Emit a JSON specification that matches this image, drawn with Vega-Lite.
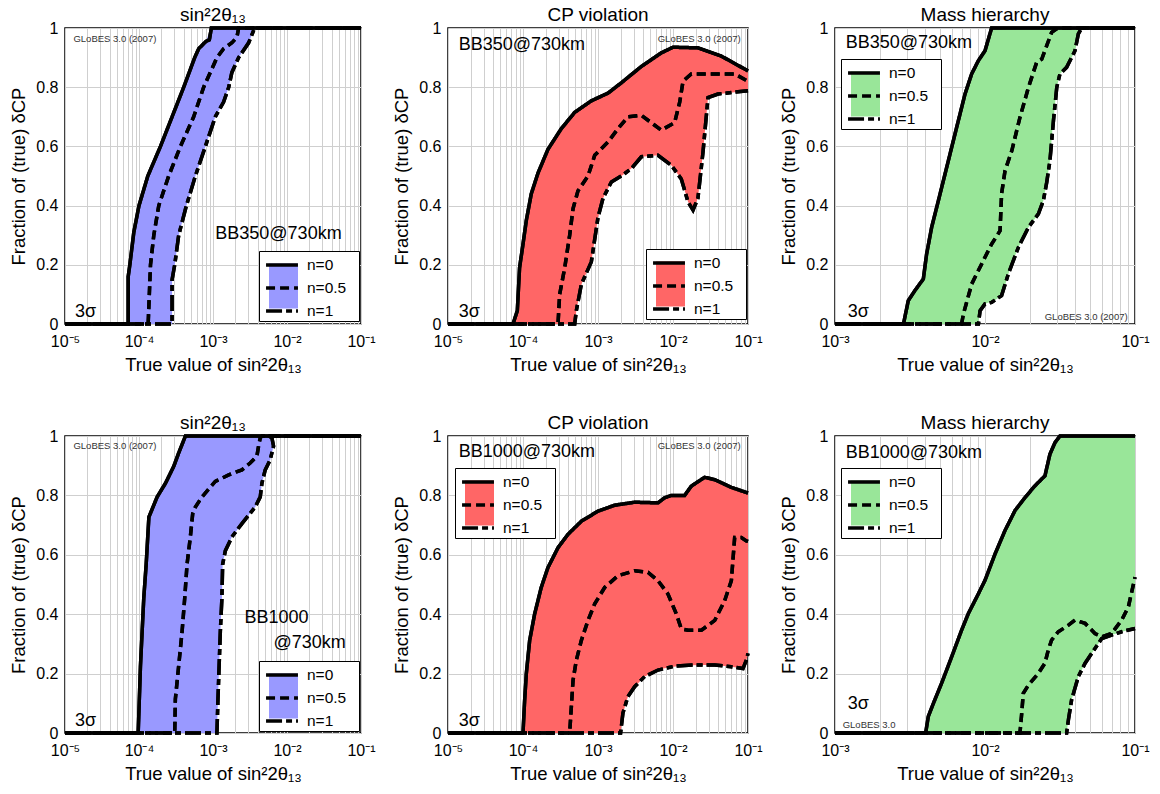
{
"$schema": "https://vega.github.io/schema/vega-lite/v6.json",
"background": "white",
"padding": {"left": 9, "top": 5, "right": 5, "bottom": 5},
"columns": 3,
"bounds": "flush",
"align": "each",
"spacing": {"row": 112, "column": 87},
"resolve": {
  "scale": {"x": "independent", "y": "independent", "strokeDash": "independent", "fill": "independent"},
  "axis": {"x": "independent", "y": "independent"},
  "legend": {"strokeDash": "independent", "fill": "independent"}
},
"datasets": {
 "grad": [{"v":0},{"v":1}],
 "f1": [{"y":0,"x":7.14e-5,"x2":2.8e-4},{"y":0.16,"x":7.14e-5,"x2":2.8e-4},{"y":0.2,"x":7.52e-5,"x2":3.04e-4},{"y":0.3,"x":8.4e-5,"x2":3.44e-4},{"y":0.4,"x":1.0e-4,"x2":4.37e-4},{"y":0.5,"x":1.315e-4,"x2":5.78e-4},{"y":0.6,"x":1.95e-4,"x2":7.89e-4},{"y":0.7,"x":2.8e-4,"x2":1.074e-3},{"y":0.75,"x":3.35e-4,"x2":1.39e-3},{"y":0.8,"x":4.02e-4,"x2":1.63e-3},{"y":0.85,"x":4.8e-4,"x2":1.8e-3},{"y":0.9,"x":5.66e-4,"x2":2.22e-3},{"y":0.95,"x":7.8e-4,"x2":3.03e-3},{"y":1,"x":9.5e-4,"x2":3.65e-3}],
 "l1": [
    {"n":"n=0","i":0,"x":1e-5,"y":0},{"n":"n=0","i":1,"x":7.14e-5,"y":0},{"n":"n=0","i":2,"x":7.14e-5,"y":0.16},{"n":"n=0","i":3,"x":7.52e-5,"y":0.2},{"n":"n=0","i":4,"x":8.51e-5,"y":0.31},{"n":"n=0","i":5,"x":1.0e-4,"y":0.4},{"n":"n=0","i":6,"x":1.315e-4,"y":0.5},{"n":"n=0","i":7,"x":1.95e-4,"y":0.6},{"n":"n=0","i":8,"x":2.8e-4,"y":0.7},{"n":"n=0","i":9,"x":4.02e-4,"y":0.8},{"n":"n=0","i":10,"x":5.66e-4,"y":0.9},{"n":"n=0","i":11,"x":6.41e-4,"y":0.93},{"n":"n=0","i":12,"x":8.05e-4,"y":0.955},{"n":"n=0","i":13,"x":8.93e-4,"y":0.96},{"n":"n=0","i":14,"x":9.5e-4,"y":1},{"n":"n=0","i":15,"x":0.1,"y":1},
    {"n":"n=0.5","i":0,"x":1e-5,"y":0},{"n":"n=0.5","i":1,"x":1.33e-4,"y":0},{"n":"n=0.5","i":2,"x":1.43e-4,"y":0.2},{"n":"n=0.5","i":3,"x":1.585e-4,"y":0.3},{"n":"n=0.5","i":4,"x":1.85e-4,"y":0.4},{"n":"n=0.5","i":5,"x":2.52e-4,"y":0.5},{"n":"n=0.5","i":6,"x":3.63e-4,"y":0.6},{"n":"n=0.5","i":7,"x":5.48e-4,"y":0.7},{"n":"n=0.5","i":8,"x":7.48e-4,"y":0.8},{"n":"n=0.5","i":9,"x":9.2e-4,"y":0.85},{"n":"n=0.5","i":10,"x":1.13e-3,"y":0.9},{"n":"n=0.5","i":11,"x":1.39e-3,"y":0.93},{"n":"n=0.5","i":12,"x":1.8e-3,"y":0.95},{"n":"n=0.5","i":13,"x":2.11e-3,"y":0.97},{"n":"n=0.5","i":14,"x":2.22e-3,"y":1},{"n":"n=0.5","i":15,"x":0.1,"y":1},
    {"n":"n=1","i":0,"x":1e-5,"y":0},{"n":"n=1","i":1,"x":2.8e-4,"y":0},{"n":"n=1","i":2,"x":2.8e-4,"y":0.15},{"n":"n=1","i":3,"x":3.04e-4,"y":0.2},{"n":"n=1","i":4,"x":3.44e-4,"y":0.3},{"n":"n=1","i":5,"x":4.37e-4,"y":0.4},{"n":"n=1","i":6,"x":5.78e-4,"y":0.5},{"n":"n=1","i":7,"x":7.89e-4,"y":0.6},{"n":"n=1","i":8,"x":1.074e-3,"y":0.7},{"n":"n=1","i":9,"x":1.39e-3,"y":0.75},{"n":"n=1","i":10,"x":1.63e-3,"y":0.8},{"n":"n=1","i":11,"x":1.8e-3,"y":0.85},{"n":"n=1","i":12,"x":2.22e-3,"y":0.9},{"n":"n=1","i":13,"x":3.03e-3,"y":0.95},{"n":"n=1","i":14,"x":3.65e-3,"y":1},{"n":"n=1","i":15,"x":0.1,"y":1}],
 "f2": [{"x":7.36e-5,"y":0,"y2":0},{"x":8.4e-5,"y":0,"y2":0.045},{"x":9e-5,"y":0,"y2":0.19},{"x":1e-4,"y":0,"y2":0.27},{"x":1.107e-4,"y":0,"y2":0.35},{"x":1.29e-4,"y":0,"y2":0.44},{"x":1.585e-4,"y":0,"y2":0.51},{"x":2.15e-4,"y":0,"y2":0.59},{"x":3.24e-4,"y":0,"y2":0.66},{"x":4.89e-4,"y":0,"y2":0.715},{"x":5.14e-4,"y":0.045,"y2":0.72},{"x":6e-4,"y":0.134,"y2":0.73},{"x":8.15e-4,"y":0.21,"y2":0.754},{"x":1e-3,"y":0.36,"y2":0.765},{"x":1.167e-3,"y":0.425,"y2":0.772},{"x":1.51e-3,"y":0.48,"y2":0.785},{"x":2.05e-3,"y":0.5,"y2":0.815},{"x":2.78e-3,"y":0.525,"y2":0.842},{"x":3.78e-3,"y":0.565,"y2":0.87},{"x":6.31e-3,"y":0.57,"y2":0.908},{"x":9.5e-3,"y":0.536,"y2":0.932},{"x":1.29e-2,"y":0.49,"y2":0.935},{"x":1.585e-2,"y":0.413,"y2":0.935},{"x":1.85e-2,"y":0.385,"y2":0.934},{"x":2.15e-2,"y":0.425,"y2":0.933},{"x":2.51e-2,"y":0.58,"y2":0.927},{"x":2.93e-2,"y":0.765,"y2":0.921},{"x":3.98e-2,"y":0.777,"y2":0.909},{"x":4.41e-2,"y":0.778,"y2":0.905},{"x":0.1,"y":0.788,"y2":0.855}],
 "l2": [
    {"n":"n=0","i":0,"x":1e-5,"y":0},{"n":"n=0","i":1,"x":7.36e-5,"y":0},{"n":"n=0","i":2,"x":8.4e-5,"y":0.045},{"n":"n=0","i":3,"x":9.0e-5,"y":0.19},{"n":"n=0","i":4,"x":1e-4,"y":0.27},{"n":"n=0","i":5,"x":1.107e-4,"y":0.35},{"n":"n=0","i":6,"x":1.29e-4,"y":0.44},{"n":"n=0","i":7,"x":1.585e-4,"y":0.51},{"n":"n=0","i":8,"x":2.15e-4,"y":0.59},{"n":"n=0","i":9,"x":3.24e-4,"y":0.66},{"n":"n=0","i":10,"x":4.89e-4,"y":0.715},{"n":"n=0","i":11,"x":8.15e-4,"y":0.754},{"n":"n=0","i":12,"x":1.36e-3,"y":0.78},{"n":"n=0","i":13,"x":2.05e-3,"y":0.815},{"n":"n=0","i":14,"x":3.78e-3,"y":0.87},{"n":"n=0","i":15,"x":6.98e-3,"y":0.916},{"n":"n=0","i":16,"x":1e-2,"y":0.935},{"n":"n=0","i":17,"x":2.15e-2,"y":0.933},{"n":"n=0","i":18,"x":4.41e-2,"y":0.905},{"n":"n=0","i":19,"x":0.1,"y":0.855},
    {"n":"n=0.5","i":0,"x":1e-5,"y":0},{"n":"n=0.5","i":1,"x":2.93e-4,"y":0},{"n":"n=0.5","i":2,"x":3.08e-4,"y":0.1},{"n":"n=0.5","i":3,"x":3.6e-4,"y":0.19},{"n":"n=0.5","i":4,"x":4.19e-4,"y":0.3},{"n":"n=0.5","i":5,"x":4.65e-4,"y":0.39},{"n":"n=0.5","i":6,"x":5.41e-4,"y":0.45},{"n":"n=0.5","i":7,"x":7.36e-4,"y":0.5},{"n":"n=0.5","i":8,"x":9.04e-4,"y":0.57},{"n":"n=0.5","i":9,"x":1.36e-3,"y":0.615},{"n":"n=0.5","i":10,"x":1.85e-3,"y":0.66},{"n":"n=0.5","i":11,"x":2.51e-3,"y":0.7},{"n":"n=0.5","i":12,"x":3.78e-3,"y":0.705},{"n":"n=0.5","i":13,"x":5.14e-3,"y":0.68},{"n":"n=0.5","i":14,"x":6.98e-3,"y":0.655},{"n":"n=0.5","i":15,"x":1.05e-2,"y":0.68},{"n":"n=0.5","i":16,"x":1.23e-2,"y":0.75},{"n":"n=0.5","i":17,"x":1.36e-2,"y":0.82},{"n":"n=0.5","i":18,"x":1.75e-2,"y":0.845},{"n":"n=0.5","i":19,"x":3.6e-2,"y":0.845},{"n":"n=0.5","i":20,"x":6.64e-2,"y":0.845},{"n":"n=0.5","i":21,"x":0.1,"y":0.82},
    {"n":"n=1","i":0,"x":1e-5,"y":0},{"n":"n=1","i":1,"x":4.89e-4,"y":0},{"n":"n=1","i":2,"x":5.14e-4,"y":0.045},{"n":"n=1","i":3,"x":6.0e-4,"y":0.134},{"n":"n=1","i":4,"x":8.15e-4,"y":0.21},{"n":"n=1","i":5,"x":1e-3,"y":0.36},{"n":"n=1","i":6,"x":1.167e-3,"y":0.425},{"n":"n=1","i":7,"x":1.51e-3,"y":0.48},{"n":"n=1","i":8,"x":2.05e-3,"y":0.5},{"n":"n=1","i":9,"x":2.78e-3,"y":0.525},{"n":"n=1","i":10,"x":3.78e-3,"y":0.565},{"n":"n=1","i":11,"x":6.31e-3,"y":0.57},{"n":"n=1","i":12,"x":9.5e-3,"y":0.536},{"n":"n=1","i":13,"x":1.29e-2,"y":0.49},{"n":"n=1","i":14,"x":1.585e-2,"y":0.413},{"n":"n=1","i":15,"x":1.85e-2,"y":0.385},{"n":"n=1","i":16,"x":2.15e-2,"y":0.425},{"n":"n=1","i":17,"x":2.51e-2,"y":0.58},{"n":"n=1","i":18,"x":2.93e-2,"y":0.765},{"n":"n=1","i":19,"x":3.98e-2,"y":0.777},{"n":"n=1","i":20,"x":0.1,"y":0.788}],
 "f3": [{"y":0,"x":2.86e-3,"x2":9.04e-3},{"y":0.045,"x":2.98e-3,"x2":9.27e-3},{"y":0.068,"x":3.05e-3,"x2":1e-2},{"y":0.079,"x":3.08e-3,"x2":1.16e-2},{"y":0.096,"x":3.25e-3,"x2":1.29e-2},{"y":0.113,"x":3.41e-3,"x2":1.33e-2},{"y":0.152,"x":3.88e-3,"x2":1.4e-2},{"y":0.169,"x":3.92e-3,"x2":1.43e-2},{"y":0.236,"x":4.08e-3,"x2":1.6e-2},{"y":0.259,"x":4.16e-3,"x2":1.67e-2},{"y":0.327,"x":4.41e-3,"x2":1.95e-2},{"y":0.372,"x":4.65e-3,"x2":2.27e-2},{"y":0.417,"x":4.89e-3,"x2":2.45e-2},{"y":0.479,"x":5.25e-3,"x2":2.58e-2},{"y":0.552,"x":5.7e-3,"x2":2.71e-2},{"y":0.664,"x":6.47e-3,"x2":2.82e-2},{"y":0.687,"x":6.62e-3,"x2":2.86e-2},{"y":0.777,"x":7.36e-3,"x2":2.97e-2},{"y":0.8,"x":7.6e-3,"x2":3.01e-2},{"y":0.845,"x":8.15e-3,"x2":3.16e-2},{"y":0.867,"x":8.6e-3,"x2":3.5e-2},{"y":0.89,"x":9.04e-3,"x2":3.7e-2},{"y":0.923,"x":1e-2,"x2":3.98e-2},{"y":0.98,"x":1.08e-2,"x2":4.19e-2},{"y":1,"x":1.107e-2,"x2":4.41e-2}],
 "l3": [
    {"n":"n=0","i":0,"x":1e-3,"y":0},{"n":"n=0","i":1,"x":2.86e-3,"y":0},{"n":"n=0","i":2,"x":3.08e-3,"y":0.079},{"n":"n=0","i":3,"x":3.41e-3,"y":0.113},{"n":"n=0","i":4,"x":3.88e-3,"y":0.152},{"n":"n=0","i":5,"x":4.08e-3,"y":0.236},{"n":"n=0","i":6,"x":4.41e-3,"y":0.327},{"n":"n=0","i":7,"x":4.89e-3,"y":0.417},{"n":"n=0","i":8,"x":5.7e-3,"y":0.552},{"n":"n=0","i":9,"x":6.47e-3,"y":0.664},{"n":"n=0","i":10,"x":7.36e-3,"y":0.777},{"n":"n=0","i":11,"x":8.15e-3,"y":0.845},{"n":"n=0","i":12,"x":9.04e-3,"y":0.89},{"n":"n=0","i":13,"x":1e-2,"y":0.923},{"n":"n=0","i":14,"x":1.107e-2,"y":1},{"n":"n=0","i":15,"x":0.1,"y":1},
    {"n":"n=0.5","i":0,"x":1e-3,"y":0},{"n":"n=0.5","i":1,"x":6.98e-3,"y":0},{"n":"n=0.5","i":2,"x":7.18e-3,"y":0.034},{"n":"n=0.5","i":3,"x":8.15e-3,"y":0.135},{"n":"n=0.5","i":4,"x":9.5e-3,"y":0.203},{"n":"n=0.5","i":5,"x":1.107e-2,"y":0.27},{"n":"n=0.5","i":6,"x":1.26e-2,"y":0.315},{"n":"n=0.5","i":7,"x":1.29e-2,"y":0.44},{"n":"n=0.5","i":8,"x":1.36e-2,"y":0.518},{"n":"n=0.5","i":9,"x":1.51e-2,"y":0.586},{"n":"n=0.5","i":10,"x":1.71e-2,"y":0.698},{"n":"n=0.5","i":11,"x":1.95e-2,"y":0.8},{"n":"n=0.5","i":12,"x":2.21e-2,"y":0.884},{"n":"n=0.5","i":13,"x":2.39e-2,"y":0.895},{"n":"n=0.5","i":14,"x":2.78e-2,"y":0.985},{"n":"n=0.5","i":15,"x":3.0e-2,"y":0.997},{"n":"n=0.5","i":16,"x":3.24e-2,"y":1},{"n":"n=0.5","i":17,"x":0.1,"y":1},
    {"n":"n=1","i":0,"x":1e-3,"y":0},{"n":"n=1","i":1,"x":9.04e-3,"y":0},{"n":"n=1","i":2,"x":9.27e-3,"y":0.045},{"n":"n=1","i":3,"x":1e-2,"y":0.068},{"n":"n=1","i":4,"x":1.107e-2,"y":0.073},{"n":"n=1","i":5,"x":1.29e-2,"y":0.096},{"n":"n=1","i":6,"x":1.43e-2,"y":0.169},{"n":"n=1","i":7,"x":1.67e-2,"y":0.259},{"n":"n=1","i":8,"x":1.95e-2,"y":0.327},{"n":"n=1","i":9,"x":2.27e-2,"y":0.372},{"n":"n=1","i":10,"x":2.45e-2,"y":0.417},{"n":"n=1","i":11,"x":2.58e-2,"y":0.479},{"n":"n=1","i":12,"x":2.71e-2,"y":0.552},{"n":"n=1","i":13,"x":2.86e-2,"y":0.687},{"n":"n=1","i":14,"x":3.01e-2,"y":0.8},{"n":"n=1","i":15,"x":3.16e-2,"y":0.845},{"n":"n=1","i":16,"x":3.5e-2,"y":0.867},{"n":"n=1","i":17,"x":3.98e-2,"y":0.923},{"n":"n=1","i":18,"x":4.19e-2,"y":0.98},{"n":"n=1","i":19,"x":4.41e-2,"y":1},{"n":"n=1","i":20,"x":0.1,"y":1}],
 "f4": [{"y":0,"x":9.75e-5,"x2":1.13e-3},{"y":0.114,"x":1.01e-4,"x2":1.167e-3},{"y":0.227,"x":1.047e-4,"x2":1.21e-3},{"y":0.341,"x":1.1e-4,"x2":1.256e-3},{"y":0.455,"x":1.16e-4,"x2":1.32e-3},{"y":0.568,"x":1.25e-4,"x2":1.35e-3},{"y":0.614,"x":1.29e-4,"x2":1.47e-3},{"y":0.66,"x":1.32e-4,"x2":1.8e-3},{"y":0.705,"x":1.35e-4,"x2":2.46e-3},{"y":0.727,"x":1.36e-4,"x2":2.9e-3},{"y":0.761,"x":1.55e-4,"x2":3.72e-3},{"y":0.795,"x":1.76e-4,"x2":4.35e-3},{"y":0.841,"x":2.28e-4,"x2":4.58e-3},{"y":0.886,"x":2.8e-4,"x2":5.08e-3},{"y":0.898,"x":2.95e-4,"x2":5.35e-3},{"y":0.92,"x":3.2e-4,"x2":5.93e-3},{"y":0.943,"x":3.44e-4,"x2":6.25e-3},{"y":0.966,"x":3.8e-4,"x2":6.58e-3},{"y":0.994,"x":4.15e-4,"x2":6.25e-3},{"y":1,"x":4.24e-4,"x2":5.64e-3}],
 "l4": [
    {"n":"n=0","i":0,"x":1e-5,"y":0},{"n":"n=0","i":1,"x":9.75e-5,"y":0},{"n":"n=0","i":2,"x":1.047e-4,"y":0.227},{"n":"n=0","i":3,"x":1.16e-4,"y":0.455},{"n":"n=0","i":4,"x":1.25e-4,"y":0.568},{"n":"n=0","i":5,"x":1.36e-4,"y":0.727},{"n":"n=0","i":6,"x":1.76e-4,"y":0.795},{"n":"n=0","i":7,"x":2.28e-4,"y":0.841},{"n":"n=0","i":8,"x":2.95e-4,"y":0.898},{"n":"n=0","i":9,"x":3.44e-4,"y":0.943},{"n":"n=0","i":10,"x":4.24e-4,"y":1},{"n":"n=0","i":11,"x":0.1,"y":1},
    {"n":"n=0.5","i":0,"x":1e-5,"y":0},{"n":"n=0.5","i":1,"x":3.04e-4,"y":0},{"n":"n=0.5","i":2,"x":3.1e-4,"y":0.114},{"n":"n=0.5","i":3,"x":3.44e-4,"y":0.227},{"n":"n=0.5","i":4,"x":3.82e-4,"y":0.341},{"n":"n=0.5","i":5,"x":4.15e-4,"y":0.455},{"n":"n=0.5","i":6,"x":4.46e-4,"y":0.568},{"n":"n=0.5","i":7,"x":4.94e-4,"y":0.66},{"n":"n=0.5","i":8,"x":5.32e-4,"y":0.739},{"n":"n=0.5","i":9,"x":5.78e-4,"y":0.761},{"n":"n=0.5","i":10,"x":7.11e-4,"y":0.795},{"n":"n=0.5","i":11,"x":1.074e-3,"y":0.847},{"n":"n=0.5","i":12,"x":1.63e-3,"y":0.869},{"n":"n=0.5","i":13,"x":2.46e-3,"y":0.886},{"n":"n=0.5","i":14,"x":3.18e-3,"y":0.909},{"n":"n=0.5","i":15,"x":3.92e-3,"y":0.932},{"n":"n=0.5","i":16,"x":4.13e-3,"y":0.966},{"n":"n=0.5","i":17,"x":4.35e-3,"y":0.994},{"n":"n=0.5","i":18,"x":4.6e-3,"y":1},{"n":"n=0.5","i":19,"x":0.1,"y":1},
    {"n":"n=1","i":0,"x":1e-5,"y":0},{"n":"n=1","i":1,"x":1.13e-3,"y":0},{"n":"n=1","i":2,"x":1.167e-3,"y":0.114},{"n":"n=1","i":3,"x":1.256e-3,"y":0.341},{"n":"n=1","i":4,"x":1.32e-3,"y":0.455},{"n":"n=1","i":5,"x":1.35e-3,"y":0.568},{"n":"n=1","i":6,"x":1.47e-3,"y":0.614},{"n":"n=1","i":7,"x":1.8e-3,"y":0.66},{"n":"n=1","i":8,"x":2.46e-3,"y":0.705},{"n":"n=1","i":9,"x":3.72e-3,"y":0.761},{"n":"n=1","i":10,"x":4.35e-3,"y":0.795},{"n":"n=1","i":11,"x":4.58e-3,"y":0.841},{"n":"n=1","i":12,"x":5.08e-3,"y":0.886},{"n":"n=1","i":13,"x":5.93e-3,"y":0.92},{"n":"n=1","i":14,"x":6.58e-3,"y":0.966},{"n":"n=1","i":15,"x":6.25e-3,"y":0.994},{"n":"n=1","i":16,"x":5.64e-3,"y":1},{"n":"n=1","i":17,"x":0.1,"y":1}],
 "f5": [{"x":1e-4,"y":0,"y2":0},{"x":1.052e-4,"y":0,"y2":0.111},{"x":1.107e-4,"y":0,"y2":0.2},{"x":1.227e-4,"y":0,"y2":0.312},{"x":1.43e-4,"y":0,"y2":0.401},{"x":1.75e-4,"y":0,"y2":0.49},{"x":2.15e-4,"y":0,"y2":0.557},{"x":2.93e-4,"y":0,"y2":0.624},{"x":3.98e-4,"y":0,"y2":0.669},{"x":6e-4,"y":0,"y2":0.713},{"x":1e-3,"y":0,"y2":0.747},{"x":1.67e-3,"y":0,"y2":0.767},{"x":2.0e-3,"y":0,"y2":0.77},{"x":2.15e-3,"y":0.067,"y2":0.771},{"x":2.51e-3,"y":0.123,"y2":0.774},{"x":3.08e-3,"y":0.156,"y2":0.777},{"x":4.19e-3,"y":0.19,"y2":0.777},{"x":6.31e-3,"y":0.212,"y2":0.775},{"x":7.74e-3,"y":0.218,"y2":0.792},{"x":9.5e-3,"y":0.222,"y2":0.8},{"x":1.43e-2,"y":0.227,"y2":0.8},{"x":1.75e-2,"y":0.228,"y2":0.831},{"x":2.64e-2,"y":0.229,"y2":0.861},{"x":3.6e-2,"y":0.229,"y2":0.853},{"x":6.0e-2,"y":0.223,"y2":0.827},{"x":8.57e-2,"y":0.217,"y2":0.815},{"x":9.5e-2,"y":0.245,"y2":0.811},{"x":0.1,"y":0.268,"y2":0.808}],
 "l5": [
    {"n":"n=0","i":0,"x":1e-5,"y":0},{"n":"n=0","i":1,"x":1e-4,"y":0},{"n":"n=0","i":2,"x":1.052e-4,"y":0.111},{"n":"n=0","i":3,"x":1.107e-4,"y":0.2},{"n":"n=0","i":4,"x":1.227e-4,"y":0.312},{"n":"n=0","i":5,"x":1.43e-4,"y":0.401},{"n":"n=0","i":6,"x":1.75e-4,"y":0.49},{"n":"n=0","i":7,"x":2.15e-4,"y":0.557},{"n":"n=0","i":8,"x":2.93e-4,"y":0.624},{"n":"n=0","i":9,"x":3.98e-4,"y":0.669},{"n":"n=0","i":10,"x":6e-4,"y":0.713},{"n":"n=0","i":11,"x":1e-3,"y":0.747},{"n":"n=0","i":12,"x":1.67e-3,"y":0.767},{"n":"n=0","i":13,"x":3.08e-3,"y":0.777},{"n":"n=0","i":14,"x":6.31e-3,"y":0.775},{"n":"n=0","i":15,"x":7.74e-3,"y":0.792},{"n":"n=0","i":16,"x":9.5e-3,"y":0.8},{"n":"n=0","i":17,"x":1.43e-2,"y":0.8},{"n":"n=0","i":18,"x":1.75e-2,"y":0.831},{"n":"n=0","i":19,"x":2.64e-2,"y":0.861},{"n":"n=0","i":20,"x":3.6e-2,"y":0.853},{"n":"n=0","i":21,"x":6e-2,"y":0.827},{"n":"n=0","i":22,"x":0.1,"y":0.808},
    {"n":"n=0.5","i":0,"x":1e-5,"y":0},{"n":"n=0.5","i":1,"x":4.19e-4,"y":0},{"n":"n=0.5","i":2,"x":4.33e-4,"y":0.056},{"n":"n=0.5","i":3,"x":4.65e-4,"y":0.178},{"n":"n=0.5","i":4,"x":5.14e-4,"y":0.245},{"n":"n=0.5","i":5,"x":6e-4,"y":0.312},{"n":"n=0.5","i":6,"x":7.36e-4,"y":0.379},{"n":"n=0.5","i":7,"x":9.04e-4,"y":0.435},{"n":"n=0.5","i":8,"x":1.227e-3,"y":0.49},{"n":"n=0.5","i":9,"x":1.85e-3,"y":0.53},{"n":"n=0.5","i":10,"x":3.08e-3,"y":0.546},{"n":"n=0.5","i":11,"x":4.65e-3,"y":0.541},{"n":"n=0.5","i":12,"x":6.31e-3,"y":0.513},{"n":"n=0.5","i":13,"x":8.57e-3,"y":0.468},{"n":"n=0.5","i":14,"x":1.107e-2,"y":0.401},{"n":"n=0.5","i":15,"x":1.29e-2,"y":0.351},{"n":"n=0.5","i":16,"x":1.585e-2,"y":0.346},{"n":"n=0.5","i":17,"x":2.39e-2,"y":0.346},{"n":"n=0.5","i":18,"x":3.6e-2,"y":0.379},{"n":"n=0.5","i":19,"x":4.89e-2,"y":0.446},{"n":"n=0.5","i":20,"x":6e-2,"y":0.513},{"n":"n=0.5","i":21,"x":6.64e-2,"y":0.658},{"n":"n=0.5","i":22,"x":8.15e-2,"y":0.658},{"n":"n=0.5","i":23,"x":9.5e-2,"y":0.647},{"n":"n=0.5","i":24,"x":0.1,"y":0.645},
    {"n":"n=1","i":0,"x":1e-5,"y":0},{"n":"n=1","i":1,"x":2.0e-3,"y":0},{"n":"n=1","i":2,"x":2.15e-3,"y":0.067},{"n":"n=1","i":3,"x":2.51e-3,"y":0.123},{"n":"n=1","i":4,"x":3.08e-3,"y":0.156},{"n":"n=1","i":5,"x":4.19e-3,"y":0.19},{"n":"n=1","i":6,"x":6.31e-3,"y":0.212},{"n":"n=1","i":7,"x":1.05e-2,"y":0.225},{"n":"n=1","i":8,"x":1.95e-2,"y":0.229},{"n":"n=1","i":9,"x":3.6e-2,"y":0.229},{"n":"n=1","i":10,"x":6e-2,"y":0.223},{"n":"n=1","i":11,"x":8.57e-2,"y":0.217},{"n":"n=1","i":12,"x":9.5e-2,"y":0.245},{"n":"n=1","i":13,"x":0.1,"y":0.268}],
 "f6": [{"x":4.02e-3,"y":0,"y2":0},{"x":4.19e-3,"y":0,"y2":0.056},{"x":4.53e-3,"y":0,"y2":0.1},{"x":5.14e-3,"y":0,"y2":0.168},{"x":6e-3,"y":0,"y2":0.257},{"x":6.98e-3,"y":0,"y2":0.346},{"x":7.74e-3,"y":0,"y2":0.402},{"x":9.04e-3,"y":0,"y2":0.469},{"x":1e-2,"y":0,"y2":0.514},{"x":1.167e-2,"y":0,"y2":0.603},{"x":1.36e-2,"y":0,"y2":0.682},{"x":1.585e-2,"y":0,"y2":0.749},{"x":1.85e-2,"y":0,"y2":0.793},{"x":2.15e-2,"y":0,"y2":0.832},{"x":2.51e-2,"y":0,"y2":0.866},{"x":2.71e-2,"y":0,"y2":0.939},{"x":2.93e-2,"y":0,"y2":0.978},{"x":3.16e-2,"y":0,"y2":1},{"x":3.5e-2,"y":0,"y2":1},{"x":3.6e-2,"y":0.045,"y2":1},{"x":3.78e-2,"y":0.112,"y2":1},{"x":4.19e-2,"y":0.19,"y2":1},{"x":4.65e-2,"y":0.235,"y2":1},{"x":5.14e-2,"y":0.268,"y2":1},{"x":6e-2,"y":0.318,"y2":1},{"x":6.98e-2,"y":0.33,"y2":1},{"x":8.15e-2,"y":0.341,"y2":1},{"x":0.1,"y":0.352,"y2":1}],
 "l6": [
    {"n":"n=0","i":0,"x":1e-3,"y":0},{"n":"n=0","i":1,"x":4.02e-3,"y":0},{"n":"n=0","i":2,"x":4.19e-3,"y":0.056},{"n":"n=0","i":3,"x":4.53e-3,"y":0.1},{"n":"n=0","i":4,"x":5.14e-3,"y":0.168},{"n":"n=0","i":5,"x":6e-3,"y":0.257},{"n":"n=0","i":6,"x":6.98e-3,"y":0.346},{"n":"n=0","i":7,"x":7.74e-3,"y":0.402},{"n":"n=0","i":8,"x":9.04e-3,"y":0.469},{"n":"n=0","i":9,"x":1e-2,"y":0.514},{"n":"n=0","i":10,"x":1.167e-2,"y":0.603},{"n":"n=0","i":11,"x":1.36e-2,"y":0.682},{"n":"n=0","i":12,"x":1.585e-2,"y":0.749},{"n":"n=0","i":13,"x":1.85e-2,"y":0.793},{"n":"n=0","i":14,"x":2.15e-2,"y":0.832},{"n":"n=0","i":15,"x":2.51e-2,"y":0.866},{"n":"n=0","i":16,"x":2.71e-2,"y":0.939},{"n":"n=0","i":17,"x":2.93e-2,"y":0.978},{"n":"n=0","i":18,"x":3.16e-2,"y":1},{"n":"n=0","i":19,"x":0.1,"y":1},
    {"n":"n=0.5","i":0,"x":1e-3,"y":0},{"n":"n=0.5","i":1,"x":1.71e-2,"y":0},{"n":"n=0.5","i":2,"x":1.75e-2,"y":0.056},{"n":"n=0.5","i":3,"x":1.8e-2,"y":0.134},{"n":"n=0.5","i":4,"x":1.95e-2,"y":0.162},{"n":"n=0.5","i":5,"x":2.27e-2,"y":0.201},{"n":"n=0.5","i":6,"x":2.51e-2,"y":0.235},{"n":"n=0.5","i":7,"x":2.64e-2,"y":0.279},{"n":"n=0.5","i":8,"x":2.78e-2,"y":0.313},{"n":"n=0.5","i":9,"x":3.08e-2,"y":0.341},{"n":"n=0.5","i":10,"x":3.6e-2,"y":0.363},{"n":"n=0.5","i":11,"x":3.98e-2,"y":0.38},{"n":"n=0.5","i":12,"x":4.65e-2,"y":0.369},{"n":"n=0.5","i":13,"x":5.41e-2,"y":0.335},{"n":"n=0.5","i":14,"x":6e-2,"y":0.324},{"n":"n=0.5","i":15,"x":6.98e-2,"y":0.335},{"n":"n=0.5","i":16,"x":8.15e-2,"y":0.38},{"n":"n=0.5","i":17,"x":9.04e-2,"y":0.425},{"n":"n=0.5","i":18,"x":0.1,"y":0.525},
    {"n":"n=1","i":0,"x":1e-3,"y":0},{"n":"n=1","i":1,"x":3.5e-2,"y":0},{"n":"n=1","i":2,"x":3.6e-2,"y":0.045},{"n":"n=1","i":3,"x":3.78e-2,"y":0.112},{"n":"n=1","i":4,"x":4.19e-2,"y":0.19},{"n":"n=1","i":5,"x":4.65e-2,"y":0.235},{"n":"n=1","i":6,"x":5.14e-2,"y":0.268},{"n":"n=1","i":7,"x":6e-2,"y":0.318},{"n":"n=1","i":8,"x":6.98e-2,"y":0.33},{"n":"n=1","i":9,"x":8.15e-2,"y":0.341},{"n":"n=1","i":10,"x":0.1,"y":0.352}]
},
"concat": [
{
 "width": 296, "height": 296,
 "title": "sin²2θ₁₃",
 "resolve": {"scale": {"strokeDash": "independent"}, "legend": {"strokeDash": "independent"}},
 "layer": [
  {"data": {"name": "f1"},
   "mark": {"type": "area", "orient": "horizontal", "color": "#9999ff"},
   "encoding": {
    "y": {"field": "y", "type": "quantitative", "scale": {"domain": [0, 1], "nice": false}, "axis": {"title": "Fraction of (true) δCP", "values": [0,0.1,0.2,0.3,0.4,0.5,0.6,0.7,0.8,0.9,1], "labelExpr": "datum.value==0?'0':datum.value==1?'1':(round(datum.value*10)%2==0?format(datum.value,'.1f'):'')"}},
    "x": {"field": "x", "type": "quantitative", "scale": {"type": "log", "domain": [1e-5, 0.1], "nice": false}, "axis": {"title": "True value of sin²2θ₁₃", "values": [1e-5,2e-5,3e-5,4e-5,5e-5,6e-5,7e-5,8e-5,9e-5,1e-4,2e-4,3e-4,4e-4,5e-4,6e-4,7e-4,8e-4,9e-4,0.001,0.002,0.003,0.004,0.005,0.006,0.007,0.008,0.009,0.01,0.02,0.03,0.04,0.05,0.06,0.07,0.08,0.09,0.1], "labelExpr": "abs(log(datum.value)/LN10-round(log(datum.value)/LN10))<0.01 ? '10'+['⁻⁵','⁻⁴','⁻³','⁻²','⁻¹'][round(log(datum.value)/LN10)+5] : ''"}},
    "x2": {"field": "x2"}
   }},
  {"data": {"name": "l1"},
   "mark": {"type": "line", "color": "black", "strokeWidth": 3.5, "strokeCap": "butt"},
   "encoding": {"x": {"field": "x", "type": "quantitative"}, "y": {"field": "y", "type": "quantitative"}, "order": {"field": "i"},
    "strokeDash": {"field": "n", "type": "nominal", "scale": {"domain": ["n=0","n=0.5","n=1"], "range": [[1,0],[9,5],[16,4,6,4]]},
      "legend": {"orient":"none","legendX":194,"legendY":223,"title":"n","titleOrient":"right","titleColor":"transparent","titleFontSize":15.5,"titlePadding":2,"symbolType":"M-1.45,0H1.45","symbolSize":484,"symbolStrokeWidth":3.5,"symbolStrokeColor":"transparent","symbolFillColor":"transparent","symbolOffset":9,"labelOffset":12,"padding":1,"rowPadding":1,"labelFontSize":15.5,"labelColor":"black","fillColor":"white","strokeColor":"black","zindex":1}}}},
  {"data": {"name": "l1"},
   "mark": {"type": "line", "color": "black", "strokeWidth": 3.5, "strokeCap": "butt"},
   "encoding": {"x": {"field": "x", "type": "quantitative"}, "y": {"field": "y", "type": "quantitative"}, "order": {"field": "i"},
    "strokeDash": {"field": "n", "type": "nominal", "scale": {"range": [[1,0],[9,5],[16,4,6,4]]},
      "legend": {"orient":"none","legendX":194,"legendY":223,"title":null,"symbolType":"M-1.45,0H1.45","symbolSize":484,"symbolStrokeWidth":3.5,"symbolStrokeColor":"black","symbolFillColor":"transparent","symbolOffset":9,"labelOffset":12,"padding":1,"rowPadding":1,"labelFontSize":15.5,"labelColor":"transparent","fillColor":"transparent","strokeColor":"transparent","zindex":3}}}},
  {"data": {"name": "grad"},
   "mark": {"type": "point", "filled": true, "opacity": 0},
   "encoding": {"fill": {"field": "v", "type": "quantitative", "scale": {"range": ["#9999ff","#9999ff"]},
      "legend": {"type":"gradient","orient":"none","legendX":204,"legendY":235.5,"title":null,"direction":"vertical","gradientLength":45,"gradientThickness":29,"gradientStrokeWidth":0,"gradientStrokeColor":"transparent","labelColor":"transparent","labelFontSize":1,"padding":0,"fillColor":"transparent","strokeColor":"transparent","zindex":2}}}},
  {"data": {"values": [{"t":"BB350@730km","x":1.074e-3,"y":0.305},{"t":"3σ","x":1.36e-5,"y":0.042}]},
   "mark": {"type": "text", "fontSize": 18, "align": "left", "baseline": "middle", "font": "Liberation Sans", "color": "black"},
   "encoding": {"x": {"field": "x", "type": "quantitative"}, "y": {"field": "y", "type": "quantitative"}, "text": {"field": "t"}}},
  {"data": {"values": [{"t":"GLoBES 3.0 (2007)","x":1.3e-5,"y":0.963}]},
   "mark": {"type": "text", "fontSize": 9.5, "align": "left", "baseline": "middle", "font": "Liberation Sans", "color": "#333333"},
   "encoding": {"x": {"field": "x", "type": "quantitative"}, "y": {"field": "y", "type": "quantitative"}, "text": {"field": "t"}}}
 ]
},
{
 "width": 300, "height": 296,
 "title": "CP violation",
 "resolve": {"scale": {"strokeDash": "independent"}, "legend": {"strokeDash": "independent"}},
 "layer": [
  {"data": {"name": "f2"},
   "mark": {"type": "area", "orient": "vertical", "color": "#ff6666"},
   "encoding": {
    "y": {"field": "y", "type": "quantitative", "scale": {"domain": [0, 1], "nice": false}, "axis": {"title": "Fraction of (true) δCP", "values": [0,0.1,0.2,0.3,0.4,0.5,0.6,0.7,0.8,0.9,1], "labelExpr": "datum.value==0?'0':datum.value==1?'1':(round(datum.value*10)%2==0?format(datum.value,'.1f'):'')"}},
    "y2": {"field": "y2"},
    "x": {"field": "x", "type": "quantitative", "scale": {"type": "log", "domain": [1e-5, 0.1], "nice": false}, "axis": {"title": "True value of sin²2θ₁₃", "values": [1e-5,2e-5,3e-5,4e-5,5e-5,6e-5,7e-5,8e-5,9e-5,1e-4,2e-4,3e-4,4e-4,5e-4,6e-4,7e-4,8e-4,9e-4,0.001,0.002,0.003,0.004,0.005,0.006,0.007,0.008,0.009,0.01,0.02,0.03,0.04,0.05,0.06,0.07,0.08,0.09,0.1], "labelExpr": "abs(log(datum.value)/LN10-round(log(datum.value)/LN10))<0.01 ? '10'+['⁻⁵','⁻⁴','⁻³','⁻²','⁻¹'][round(log(datum.value)/LN10)+5] : ''"}}
   }},
  {"data": {"name": "l2"},
   "mark": {"type": "line", "color": "black", "strokeWidth": 3.5, "strokeCap": "butt"},
   "encoding": {"x": {"field": "x", "type": "quantitative"}, "y": {"field": "y", "type": "quantitative"}, "order": {"field": "i"},
    "strokeDash": {"field": "n", "type": "nominal", "scale": {"domain": ["n=0","n=0.5","n=1"], "range": [[1,0],[9,5],[16,4,6,4]]},
      "legend": {"orient":"none","legendX":198,"legendY":221,"title":"n","titleOrient":"right","titleColor":"transparent","titleFontSize":15.5,"titlePadding":2,"symbolType":"M-1.45,0H1.45","symbolSize":484,"symbolStrokeWidth":3.5,"symbolStrokeColor":"transparent","symbolFillColor":"transparent","symbolOffset":9,"labelOffset":12,"padding":1,"rowPadding":1,"labelFontSize":15.5,"labelColor":"black","fillColor":"white","strokeColor":"black","zindex":1}}}},
  {"data": {"name": "l2"},
   "mark": {"type": "line", "color": "black", "strokeWidth": 3.5, "strokeCap": "butt"},
   "encoding": {"x": {"field": "x", "type": "quantitative"}, "y": {"field": "y", "type": "quantitative"}, "order": {"field": "i"},
    "strokeDash": {"field": "n", "type": "nominal", "scale": {"range": [[1,0],[9,5],[16,4,6,4]]},
      "legend": {"orient":"none","legendX":198,"legendY":221,"title":null,"symbolType":"M-1.45,0H1.45","symbolSize":484,"symbolStrokeWidth":3.5,"symbolStrokeColor":"black","symbolFillColor":"transparent","symbolOffset":9,"labelOffset":12,"padding":1,"rowPadding":1,"labelFontSize":15.5,"labelColor":"transparent","fillColor":"transparent","strokeColor":"transparent","zindex":3}}}},
  {"data": {"name": "grad"},
   "mark": {"type": "point", "filled": true, "opacity": 0},
   "encoding": {"fill": {"field": "v", "type": "quantitative", "scale": {"range": ["#ff6666","#ff6666"]},
      "legend": {"type":"gradient","orient":"none","legendX":208,"legendY":233.5,"title":null,"direction":"vertical","gradientLength":45,"gradientThickness":29,"gradientStrokeWidth":0,"gradientStrokeColor":"transparent","labelColor":"transparent","labelFontSize":1,"padding":0,"fillColor":"transparent","strokeColor":"transparent","zindex":2}}}},
  {"data": {"values": [{"t":"BB350@730km","x":1.39e-5,"y":0.944},{"t":"3σ","x":1.39e-5,"y":0.039}]},
   "mark": {"type": "text", "fontSize": 18, "align": "left", "baseline": "middle", "font": "Liberation Sans", "color": "black"},
   "encoding": {"x": {"field": "x", "type": "quantitative"}, "y": {"field": "y", "type": "quantitative"}, "text": {"field": "t"}}},
  {"data": {"values": [{"t":"GLoBES 3.0 (2007)","x":7.98e-2,"y":0.963}]},
   "mark": {"type": "text", "fontSize": 9.5, "align": "right", "baseline": "middle", "font": "Liberation Sans", "color": "#333333"},
   "encoding": {"x": {"field": "x", "type": "quantitative"}, "y": {"field": "y", "type": "quantitative"}, "text": {"field": "t"}}}
 ]
},
{
 "width": 300, "height": 296,
 "title": "Mass hierarchy",
 "resolve": {"scale": {"strokeDash": "independent"}, "legend": {"strokeDash": "independent"}},
 "layer": [
  {"data": {"name": "f3"},
   "mark": {"type": "area", "orient": "horizontal", "color": "#99e699"},
   "encoding": {
    "y": {"field": "y", "type": "quantitative", "scale": {"domain": [0, 1], "nice": false}, "axis": {"title": "Fraction of (true) δCP", "values": [0,0.1,0.2,0.3,0.4,0.5,0.6,0.7,0.8,0.9,1], "labelExpr": "datum.value==0?'0':datum.value==1?'1':(round(datum.value*10)%2==0?format(datum.value,'.1f'):'')"}},
    "x": {"field": "x", "type": "quantitative", "scale": {"type": "log", "domain": [1e-3, 0.1], "nice": false}, "axis": {"title": "True value of sin²2θ₁₃", "values": [0.001,0.002,0.003,0.004,0.005,0.006,0.007,0.008,0.009,0.01,0.02,0.03,0.04,0.05,0.06,0.07,0.08,0.09,0.1], "labelExpr": "abs(log(datum.value)/LN10-round(log(datum.value)/LN10))<0.01 ? '10'+['⁻⁵','⁻⁴','⁻³','⁻²','⁻¹'][round(log(datum.value)/LN10)+5] : ''"}},
    "x2": {"field": "x2"}
   }},
  {"data": {"name": "l3"},
   "mark": {"type": "line", "color": "black", "strokeWidth": 3.5, "strokeCap": "butt"},
   "encoding": {"x": {"field": "x", "type": "quantitative"}, "y": {"field": "y", "type": "quantitative"}, "order": {"field": "i"},
    "strokeDash": {"field": "n", "type": "nominal", "scale": {"domain": ["n=0","n=0.5","n=1"], "range": [[1,0],[9,5],[16,4,6,4]]},
      "legend": {"orient":"none","legendX":6,"legendY":31,"title":"n","titleOrient":"right","titleColor":"transparent","titleFontSize":15.5,"titlePadding":2,"symbolType":"M-1.45,0H1.45","symbolSize":484,"symbolStrokeWidth":3.5,"symbolStrokeColor":"transparent","symbolFillColor":"transparent","symbolOffset":9,"labelOffset":12,"padding":1,"rowPadding":1,"labelFontSize":15.5,"labelColor":"black","fillColor":"white","strokeColor":"black","zindex":1}}}},
  {"data": {"name": "l3"},
   "mark": {"type": "line", "color": "black", "strokeWidth": 3.5, "strokeCap": "butt"},
   "encoding": {"x": {"field": "x", "type": "quantitative"}, "y": {"field": "y", "type": "quantitative"}, "order": {"field": "i"},
    "strokeDash": {"field": "n", "type": "nominal", "scale": {"range": [[1,0],[9,5],[16,4,6,4]]},
      "legend": {"orient":"none","legendX":6,"legendY":31,"title":null,"symbolType":"M-1.45,0H1.45","symbolSize":484,"symbolStrokeWidth":3.5,"symbolStrokeColor":"black","symbolFillColor":"transparent","symbolOffset":9,"labelOffset":12,"padding":1,"rowPadding":1,"labelFontSize":15.5,"labelColor":"transparent","fillColor":"transparent","strokeColor":"transparent","zindex":3}}}},
  {"data": {"name": "grad"},
   "mark": {"type": "point", "filled": true, "opacity": 0},
   "encoding": {"fill": {"field": "v", "type": "quantitative", "scale": {"range": ["#99e699","#99e699"]},
      "legend": {"type":"gradient","orient":"none","legendX":16,"legendY":43.5,"title":null,"direction":"vertical","gradientLength":45,"gradientThickness":29,"gradientStrokeWidth":0,"gradientStrokeColor":"transparent","labelColor":"transparent","labelFontSize":1,"padding":0,"fillColor":"transparent","strokeColor":"transparent","zindex":2}}}},
  {"data": {"values": [{"t":"BB350@730km","x":1.178e-3,"y":0.948},{"t":"3σ","x":1.215e-3,"y":0.039}]},
   "mark": {"type": "text", "fontSize": 18, "align": "left", "baseline": "middle", "font": "Liberation Sans", "color": "black"},
   "encoding": {"x": {"field": "x", "type": "quantitative"}, "y": {"field": "y", "type": "quantitative"}, "text": {"field": "t"}}},
  {"data": {"values": [{"t":"GLoBES 3.0 (2007)","x":8.93e-2,"y":0.025}]},
   "mark": {"type": "text", "fontSize": 9.5, "align": "right", "baseline": "middle", "font": "Liberation Sans", "color": "#333333"},
   "encoding": {"x": {"field": "x", "type": "quantitative"}, "y": {"field": "y", "type": "quantitative"}, "text": {"field": "t"}}}
 ]
},
{
 "width": 296, "height": 297,
 "title": "sin²2θ₁₃",
 "resolve": {"scale": {"strokeDash": "independent"}, "legend": {"strokeDash": "independent"}},
 "layer": [
  {"data": {"name": "f4"},
   "mark": {"type": "area", "orient": "horizontal", "color": "#9999ff"},
   "encoding": {
    "y": {"field": "y", "type": "quantitative", "scale": {"domain": [0, 1], "nice": false}, "axis": {"title": "Fraction of (true) δCP", "values": [0,0.1,0.2,0.3,0.4,0.5,0.6,0.7,0.8,0.9,1], "labelExpr": "datum.value==0?'0':datum.value==1?'1':(round(datum.value*10)%2==0?format(datum.value,'.1f'):'')"}},
    "x": {"field": "x", "type": "quantitative", "scale": {"type": "log", "domain": [1e-5, 0.1], "nice": false}, "axis": {"title": "True value of sin²2θ₁₃", "values": [1e-5,2e-5,3e-5,4e-5,5e-5,6e-5,7e-5,8e-5,9e-5,1e-4,2e-4,3e-4,4e-4,5e-4,6e-4,7e-4,8e-4,9e-4,0.001,0.002,0.003,0.004,0.005,0.006,0.007,0.008,0.009,0.01,0.02,0.03,0.04,0.05,0.06,0.07,0.08,0.09,0.1], "labelExpr": "abs(log(datum.value)/LN10-round(log(datum.value)/LN10))<0.01 ? '10'+['⁻⁵','⁻⁴','⁻³','⁻²','⁻¹'][round(log(datum.value)/LN10)+5] : ''"}},
    "x2": {"field": "x2"}
   }},
  {"data": {"name": "l4"},
   "mark": {"type": "line", "color": "black", "strokeWidth": 3.5, "strokeCap": "butt"},
   "encoding": {"x": {"field": "x", "type": "quantitative"}, "y": {"field": "y", "type": "quantitative"}, "order": {"field": "i"},
    "strokeDash": {"field": "n", "type": "nominal", "scale": {"domain": ["n=0","n=0.5","n=1"], "range": [[1,0],[9,5],[16,4,6,4]]},
      "legend": {"orient":"none","legendX":194,"legendY":225,"title":"n","titleOrient":"right","titleColor":"transparent","titleFontSize":15.5,"titlePadding":2,"symbolType":"M-1.45,0H1.45","symbolSize":484,"symbolStrokeWidth":3.5,"symbolStrokeColor":"transparent","symbolFillColor":"transparent","symbolOffset":9,"labelOffset":12,"padding":1,"rowPadding":1,"labelFontSize":15.5,"labelColor":"black","fillColor":"white","strokeColor":"black","zindex":1}}}},
  {"data": {"name": "l4"},
   "mark": {"type": "line", "color": "black", "strokeWidth": 3.5, "strokeCap": "butt"},
   "encoding": {"x": {"field": "x", "type": "quantitative"}, "y": {"field": "y", "type": "quantitative"}, "order": {"field": "i"},
    "strokeDash": {"field": "n", "type": "nominal", "scale": {"range": [[1,0],[9,5],[16,4,6,4]]},
      "legend": {"orient":"none","legendX":194,"legendY":225,"title":null,"symbolType":"M-1.45,0H1.45","symbolSize":484,"symbolStrokeWidth":3.5,"symbolStrokeColor":"black","symbolFillColor":"transparent","symbolOffset":9,"labelOffset":12,"padding":1,"rowPadding":1,"labelFontSize":15.5,"labelColor":"transparent","fillColor":"transparent","strokeColor":"transparent","zindex":3}}}},
  {"data": {"name": "grad"},
   "mark": {"type": "point", "filled": true, "opacity": 0},
   "encoding": {"fill": {"field": "v", "type": "quantitative", "scale": {"range": ["#9999ff","#9999ff"]},
      "legend": {"type":"gradient","orient":"none","legendX":204,"legendY":237.5,"title":null,"direction":"vertical","gradientLength":45,"gradientThickness":29,"gradientStrokeWidth":0,"gradientStrokeColor":"transparent","labelColor":"transparent","labelFontSize":1,"padding":0,"fillColor":"transparent","strokeColor":"transparent","zindex":2}}}},
  {"data": {"values": [{"t":"BB1000","x":2.67e-3,"y":0.386},{"t":"@730km","x":6.58e-3,"y":0.303},{"t":"3σ","x":1.36e-5,"y":0.04}]},
   "mark": {"type": "text", "fontSize": 18, "align": "left", "baseline": "middle", "font": "Liberation Sans", "color": "black"},
   "encoding": {"x": {"field": "x", "type": "quantitative"}, "y": {"field": "y", "type": "quantitative"}, "text": {"field": "t"}}},
  {"data": {"values": [{"t":"GLoBES 3.0 (2007)","x":1.3e-5,"y":0.966}]},
   "mark": {"type": "text", "fontSize": 9.5, "align": "left", "baseline": "middle", "font": "Liberation Sans", "color": "#333333"},
   "encoding": {"x": {"field": "x", "type": "quantitative"}, "y": {"field": "y", "type": "quantitative"}, "text": {"field": "t"}}}
 ]
},
{
 "width": 300, "height": 297,
 "title": "CP violation",
 "resolve": {"scale": {"strokeDash": "independent"}, "legend": {"strokeDash": "independent"}},
 "layer": [
  {"data": {"name": "f5"},
   "mark": {"type": "area", "orient": "vertical", "color": "#ff6666"},
   "encoding": {
    "y": {"field": "y", "type": "quantitative", "scale": {"domain": [0, 1], "nice": false}, "axis": {"title": "Fraction of (true) δCP", "values": [0,0.1,0.2,0.3,0.4,0.5,0.6,0.7,0.8,0.9,1], "labelExpr": "datum.value==0?'0':datum.value==1?'1':(round(datum.value*10)%2==0?format(datum.value,'.1f'):'')"}},
    "y2": {"field": "y2"},
    "x": {"field": "x", "type": "quantitative", "scale": {"type": "log", "domain": [1e-5, 0.1], "nice": false}, "axis": {"title": "True value of sin²2θ₁₃", "values": [1e-5,2e-5,3e-5,4e-5,5e-5,6e-5,7e-5,8e-5,9e-5,1e-4,2e-4,3e-4,4e-4,5e-4,6e-4,7e-4,8e-4,9e-4,0.001,0.002,0.003,0.004,0.005,0.006,0.007,0.008,0.009,0.01,0.02,0.03,0.04,0.05,0.06,0.07,0.08,0.09,0.1], "labelExpr": "abs(log(datum.value)/LN10-round(log(datum.value)/LN10))<0.01 ? '10'+['⁻⁵','⁻⁴','⁻³','⁻²','⁻¹'][round(log(datum.value)/LN10)+5] : ''"}}
   }},
  {"data": {"name": "l5"},
   "mark": {"type": "line", "color": "black", "strokeWidth": 3.5, "strokeCap": "butt"},
   "encoding": {"x": {"field": "x", "type": "quantitative"}, "y": {"field": "y", "type": "quantitative"}, "order": {"field": "i"},
    "strokeDash": {"field": "n", "type": "nominal", "scale": {"domain": ["n=0","n=0.5","n=1"], "range": [[1,0],[9,5],[16,4,6,4]]},
      "legend": {"orient":"none","legendX":7,"legendY":32,"title":"n","titleOrient":"right","titleColor":"transparent","titleFontSize":15.5,"titlePadding":2,"symbolType":"M-1.45,0H1.45","symbolSize":484,"symbolStrokeWidth":3.5,"symbolStrokeColor":"transparent","symbolFillColor":"transparent","symbolOffset":9,"labelOffset":12,"padding":1,"rowPadding":1,"labelFontSize":15.5,"labelColor":"black","fillColor":"white","strokeColor":"black","zindex":1}}}},
  {"data": {"name": "l5"},
   "mark": {"type": "line", "color": "black", "strokeWidth": 3.5, "strokeCap": "butt"},
   "encoding": {"x": {"field": "x", "type": "quantitative"}, "y": {"field": "y", "type": "quantitative"}, "order": {"field": "i"},
    "strokeDash": {"field": "n", "type": "nominal", "scale": {"range": [[1,0],[9,5],[16,4,6,4]]},
      "legend": {"orient":"none","legendX":7,"legendY":32,"title":null,"symbolType":"M-1.45,0H1.45","symbolSize":484,"symbolStrokeWidth":3.5,"symbolStrokeColor":"black","symbolFillColor":"transparent","symbolOffset":9,"labelOffset":12,"padding":1,"rowPadding":1,"labelFontSize":15.5,"labelColor":"transparent","fillColor":"transparent","strokeColor":"transparent","zindex":3}}}},
  {"data": {"name": "grad"},
   "mark": {"type": "point", "filled": true, "opacity": 0},
   "encoding": {"fill": {"field": "v", "type": "quantitative", "scale": {"range": ["#ff6666","#ff6666"]},
      "legend": {"type":"gradient","orient":"none","legendX":17,"legendY":44.5,"title":null,"direction":"vertical","gradientLength":45,"gradientThickness":29,"gradientStrokeWidth":0,"gradientStrokeColor":"transparent","labelColor":"transparent","labelFontSize":1,"padding":0,"fillColor":"transparent","strokeColor":"transparent","zindex":2}}}},
  {"data": {"values": [{"t":"BB1000@730km","x":1.39e-5,"y":0.946},{"t":"3σ","x":1.39e-5,"y":0.042}]},
   "mark": {"type": "text", "fontSize": 18, "align": "left", "baseline": "middle", "font": "Liberation Sans", "color": "black"},
   "encoding": {"x": {"field": "x", "type": "quantitative"}, "y": {"field": "y", "type": "quantitative"}, "text": {"field": "t"}}},
  {"data": {"values": [{"t":"GLoBES 3.0 (2007)","x":7.98e-2,"y":0.967}]},
   "mark": {"type": "text", "fontSize": 9.5, "align": "right", "baseline": "middle", "font": "Liberation Sans", "color": "#333333"},
   "encoding": {"x": {"field": "x", "type": "quantitative"}, "y": {"field": "y", "type": "quantitative"}, "text": {"field": "t"}}}
 ]
},
{
 "width": 300, "height": 297,
 "title": "Mass hierarchy",
 "resolve": {"scale": {"strokeDash": "independent"}, "legend": {"strokeDash": "independent"}},
 "layer": [
  {"data": {"name": "f6"},
   "mark": {"type": "area", "orient": "vertical", "color": "#99e699"},
   "encoding": {
    "y": {"field": "y", "type": "quantitative", "scale": {"domain": [0, 1], "nice": false}, "axis": {"title": "Fraction of (true) δCP", "values": [0,0.1,0.2,0.3,0.4,0.5,0.6,0.7,0.8,0.9,1], "labelExpr": "datum.value==0?'0':datum.value==1?'1':(round(datum.value*10)%2==0?format(datum.value,'.1f'):'')"}},
    "y2": {"field": "y2"},
    "x": {"field": "x", "type": "quantitative", "scale": {"type": "log", "domain": [1e-3, 0.1], "nice": false}, "axis": {"title": "True value of sin²2θ₁₃", "values": [0.001,0.002,0.003,0.004,0.005,0.006,0.007,0.008,0.009,0.01,0.02,0.03,0.04,0.05,0.06,0.07,0.08,0.09,0.1], "labelExpr": "abs(log(datum.value)/LN10-round(log(datum.value)/LN10))<0.01 ? '10'+['⁻⁵','⁻⁴','⁻³','⁻²','⁻¹'][round(log(datum.value)/LN10)+5] : ''"}}
   }},
  {"data": {"name": "l6"},
   "mark": {"type": "line", "color": "black", "strokeWidth": 3.5, "strokeCap": "butt"},
   "encoding": {"x": {"field": "x", "type": "quantitative"}, "y": {"field": "y", "type": "quantitative"}, "order": {"field": "i"},
    "strokeDash": {"field": "n", "type": "nominal", "scale": {"domain": ["n=0","n=0.5","n=1"], "range": [[1,0],[9,5],[16,4,6,4]]},
      "legend": {"orient":"none","legendX":6,"legendY":32,"title":"n","titleOrient":"right","titleColor":"transparent","titleFontSize":15.5,"titlePadding":2,"symbolType":"M-1.45,0H1.45","symbolSize":484,"symbolStrokeWidth":3.5,"symbolStrokeColor":"transparent","symbolFillColor":"transparent","symbolOffset":9,"labelOffset":12,"padding":1,"rowPadding":1,"labelFontSize":15.5,"labelColor":"black","fillColor":"white","strokeColor":"black","zindex":1}}}},
  {"data": {"name": "l6"},
   "mark": {"type": "line", "color": "black", "strokeWidth": 3.5, "strokeCap": "butt"},
   "encoding": {"x": {"field": "x", "type": "quantitative"}, "y": {"field": "y", "type": "quantitative"}, "order": {"field": "i"},
    "strokeDash": {"field": "n", "type": "nominal", "scale": {"range": [[1,0],[9,5],[16,4,6,4]]},
      "legend": {"orient":"none","legendX":6,"legendY":32,"title":null,"symbolType":"M-1.45,0H1.45","symbolSize":484,"symbolStrokeWidth":3.5,"symbolStrokeColor":"black","symbolFillColor":"transparent","symbolOffset":9,"labelOffset":12,"padding":1,"rowPadding":1,"labelFontSize":15.5,"labelColor":"transparent","fillColor":"transparent","strokeColor":"transparent","zindex":3}}}},
  {"data": {"name": "grad"},
   "mark": {"type": "point", "filled": true, "opacity": 0},
   "encoding": {"fill": {"field": "v", "type": "quantitative", "scale": {"range": ["#99e699","#99e699"]},
      "legend": {"type":"gradient","orient":"none","legendX":16,"legendY":44.5,"title":null,"direction":"vertical","gradientLength":45,"gradientThickness":29,"gradientStrokeWidth":0,"gradientStrokeColor":"transparent","labelColor":"transparent","labelFontSize":1,"padding":0,"fillColor":"transparent","strokeColor":"transparent","zindex":2}}}},
  {"data": {"values": [{"t":"BB1000@730km","x":1.178e-3,"y":0.944},{"t":"3σ","x":1.215e-3,"y":0.098}]},
   "mark": {"type": "text", "fontSize": 18, "align": "left", "baseline": "middle", "font": "Liberation Sans", "color": "black"},
   "encoding": {"x": {"field": "x", "type": "quantitative"}, "y": {"field": "y", "type": "quantitative"}, "text": {"field": "t"}}},
  {"data": {"values": [{"t":"GLoBES 3.0","x":1.125e-3,"y":0.028}]},
   "mark": {"type": "text", "fontSize": 9.5, "align": "left", "baseline": "middle", "font": "Liberation Sans", "color": "#333333"},
   "encoding": {"x": {"field": "x", "type": "quantitative"}, "y": {"field": "y", "type": "quantitative"}, "text": {"field": "t"}}}
 ]
}
],
"config": {
  "font": "Liberation Sans",
  "view": {"stroke": "black", "strokeWidth": 1.5},
  "axis": {"grid": true, "gridColor": "#cfcfcf", "gridWidth": 1, "ticks": false, "domain": false, "labelFontSize": 16, "labelColor": "black", "titleColor": "black", "titleFontSize": 18.5, "titleFontWeight": "normal", "labelFont": "Liberation Sans", "titleFont": "Liberation Sans", "labelOverlap": false},
  "axisX": {"labelPadding": 9, "titlePadding": 6, "labelFlush": false},
  "axisY": {"labelPadding": 7, "titlePadding": 7},
  "title": {"fontSize": 19, "fontWeight": "normal", "offset": -5, "color": "black", "font": "Liberation Sans"},
  "legend": {"labelFont": "Liberation Sans"}
}
}
